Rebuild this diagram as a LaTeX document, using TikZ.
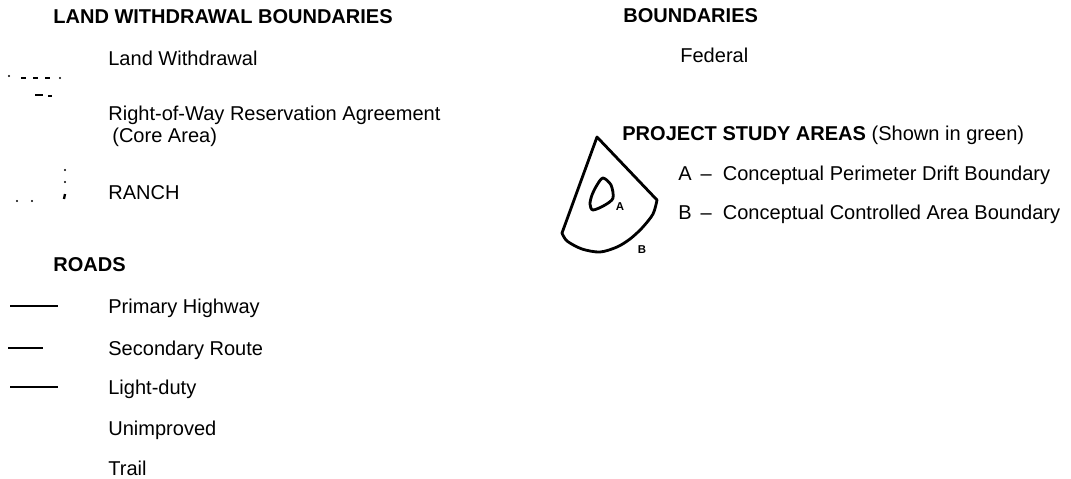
\documentclass[tikz,border=0pt]{standalone}
\usepackage{fontspec}
\setmainfont{Liberation Sans}
\usetikzlibrary{positioning}

\begin{document}
\begin{tikzpicture}[x=.02cm,y=-.02cm]%
                    \useasboundingbox (0,0) rectangle (1071,478); %%
                    \tikzstyle{txt}=[anchor=west,inner sep=0pt,text height=8.2pt,text depth=0pt,font=\fontsize{11.4}{13}\selectfont]; %%
                    \tikzstyle{hd}=[txt,font=\fontsize{11.4}{13}\selectfont\bfseries]; %%
                    \tikzstyle{tag}=[inner sep=0pt,font=\fontsize{6.5}{7}\selectfont\bfseries]; %%
                    \tikzstyle{area}=[line width=1.6pt,line join=round,line cap=round]; %%
                    % left column
                    \node[hd] (lwb) at (53,16)  {LAND WITHDRAWAL BOUNDARIES}; %%
                    \node[txt] (lw) at (108,58)  {Land Withdrawal}; %%
                    \node[txt] (row) at (108,113)  {Right-of-Way Reservation Agreement}; %%
                    \node[txt] (core) at (112,135)  {(Core Area)}; %%
                    \node[txt] (ranch) at (108,192)  {RANCH}; %%
                    \node[hd] (roads) at (53,264)  {ROADS}; %%
                    \node[txt] (primary) at (108,306)  {Primary Highway}; %%
                    \node[txt] (secondary) at (108,348)  {Secondary Route}; %%
                    \node[txt] (lightduty) at (108,387)  {Light-duty}; %%
                    \node[txt] (unimproved) at (108,428)  {Unimproved}; %%
                    \node[txt] (trail) at (108,468)  {Trail}; %%
                    % right column
                    \node[hd] (bnd) at (623,15)  {BOUNDARIES}; %%
                    \node[txt] (federal) at (680,55)  {Federal}; %%
                    \node[txt] (psa) at (622,133)  {\bfseries PROJECT STUDY AREAS \mdseries(Shown in green)}; %%
                    \node[txt] (areaA) at (678,173)  {A\,\ --\ \ Conceptual Perimeter Drift Boundary}; %%
                    \node[txt] (areaB) at (678,212)  {B\,\ --\ \ Conceptual Controlled Area Boundary}; %%
                    % boundary symbols
                    \fill (9,76) circle (1.1); %%
                    \foreach \x in {21,33,45} \draw[line width=1.1pt] (\x,78)--(\x+5,78); %%
                    \fill (60,78) circle (1.1); %%
                    \draw[line width=1.1pt] (35,95)--(43,95); %%
                    \draw[line width=1.1pt] (48,96)--(52,96); %%
                    \fill (17,201) circle (1.2); %%
                    \fill (32,201) circle (1.2); %%
                    \fill (65,170) circle (1.1); %%
                    \fill (65,182) circle (1.2); %%
                    \draw[line width=1.3pt] (65,194)--(64,199); %%
                    % road symbols
                    \draw[line width=1pt] (10,306)--(58,306); %%
                    \draw[line width=1.1pt] (8,348)--(43,348); %%
                    \draw[line width=1.6pt] (10,387)--(58,387); %%
                    % study areas
                    \draw[area] (597,137) -- (657,200) -- plot[smooth] coordinates {(657,200) (653,214) (642,228) (630,239) (617,247) (600,252) (582,249) (567,241) (562,233)} -- cycle; %%
                    \draw[area] plot[smooth cycle] coordinates {(603,178) (611,185) (613,198) (605,205) (593,210) (590,204) (592,195) (597,185)}; %%
                    \node[tag] (markA) at (620,207)  {A}; %%
                    \node[tag] (markB) at (642,250)  {B}; %%
                    \end{tikzpicture}
\end{document}
